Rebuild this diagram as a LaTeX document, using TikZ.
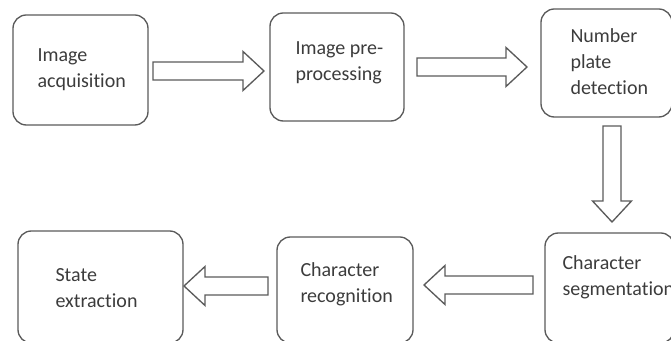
\documentclass[tikz,border=0pt]{standalone}
\usepackage{fontspec}
\setmainfont{Carlito}[Ligatures=NoCommon]
\usetikzlibrary{calc}

\definecolor{boxline}{RGB}{90,90,90}
\definecolor{boxtext}{RGB}{60,60,60}

\tikzset{every picture/.style={line width=0.75pt}}
\tikzset{
  stagebox/.style={draw=boxline, line width=1pt, rounded corners=10pt, inner sep=0pt, outer sep=0pt},
  stagetext/.style={anchor=west, inner sep=0pt, align=left, text=boxtext, font=\fontsize{15}{19.5}\selectfont},
  blockarrow/.style={draw=boxline, line width=1pt, line join=miter}
}

% hollow block arrows: #1 tail, #2 tip, #3 = 1 right / -1 left
\newcommand{\hblock}[3]{%
  \draw[blockarrow] ($(#1)+(0,-9)$) -- ($(#2)+({-21*(#3)},-9)$) -- ($(#2)+({-21*(#3)},-19.5)$) -- (#2)
    -- ($(#2)+({-21*(#3)},19.5)$) -- ($(#2)+({-21*(#3)},9)$) -- ($(#1)+(0,9)$) -- cycle;}
% downward version
\newcommand{\vblock}[2]{%
  \draw[blockarrow] ($(#1)+(-9,0)$) -- ($(#2)+(-9,-21)$) -- ($(#2)+(-19.5,-21)$) -- (#2)
    -- ($(#2)+(19.5,-21)$) -- ($(#2)+(9,-21)$) -- ($(#1)+(9,0)$) -- cycle;}

\begin{document}
\begin{tikzpicture}[x=0.75pt,y=0.75pt,yscale=-1.0,xscale=1.0]
    \useasboundingbox (0,0) rectangle (671,341);

    % Stage boxes
    \node[stagebox, minimum width=101.25pt, minimum height=82.5pt] (acq) at (80.5,70) {};
    \node[stagebox, minimum width=100.5pt, minimum height=81pt] (prep) at (337,67) {};
    \node[stagebox, minimum width=98.25pt, minimum height=81pt] (npd) at (606.5,63) {};
    \node[stagebox, minimum width=96.75pt, minimum height=82.5pt] (seg) at (609.5,288) {};
    \node[stagebox, minimum width=102pt, minimum height=79.5pt] (rec) at (345,290) {};
    \node[stagebox, minimum width=123.75pt, minimum height=84pt] (state) at (100.5,287) {};

    % Text Node
    \node[stagetext] (acqt) at (37,70) {Image\\acquisition};
    \node[stagetext] (prept) at (295,62.5) {Image pre-\\processing};
    \node[stagetext] (npdt) at (570,61.5) {Number\\plate\\detection};
    \node[stagetext] (segt) at (562,277.5) {Character\\segmentation};
    \node[stagetext] (rect) at (300,284.5) {Character\\recognition};
    \node[stagetext] (statet) at (55,288.5) {State\\extraction};

    % Connection
    \coordinate (a1s) at ($(acq.east)+(5,1)$);
    \coordinate (a1e) at ($(prep.west |- a1s)+(-6,0)$);
    \hblock{a1s}{a1e}{1}
    % Connection
    \coordinate (a2s) at ($(prep.east)+(13,0)$);
    \coordinate (a2e) at ($(npd.west |- a2s)+(-14,0)$);
    \hblock{a2s}{a2e}{1}
    % Connection
    \coordinate (a3s) at ($(npd.south)+(5.5,9)$);
    \coordinate (a3e) at ($(seg.north -| a3s)+(0,-11)$);
    \vblock{a3s}{a3e}
    % Connection
    \coordinate (a4s) at ($(seg.west)+(-12,-3)$);
    \coordinate (a4e) at ($(rec.east |- a4s)+(11,0)$);
    \hblock{a4s}{a4e}{-1}
    % Connection
    \coordinate (a5s) at ($(rec.west)+(-9,-4)$);
    \coordinate (a5e) at ($(state.east |- a5s)+(1,0)$);
    \hblock{a5s}{a5e}{-1}
\end{tikzpicture}
\end{document}
